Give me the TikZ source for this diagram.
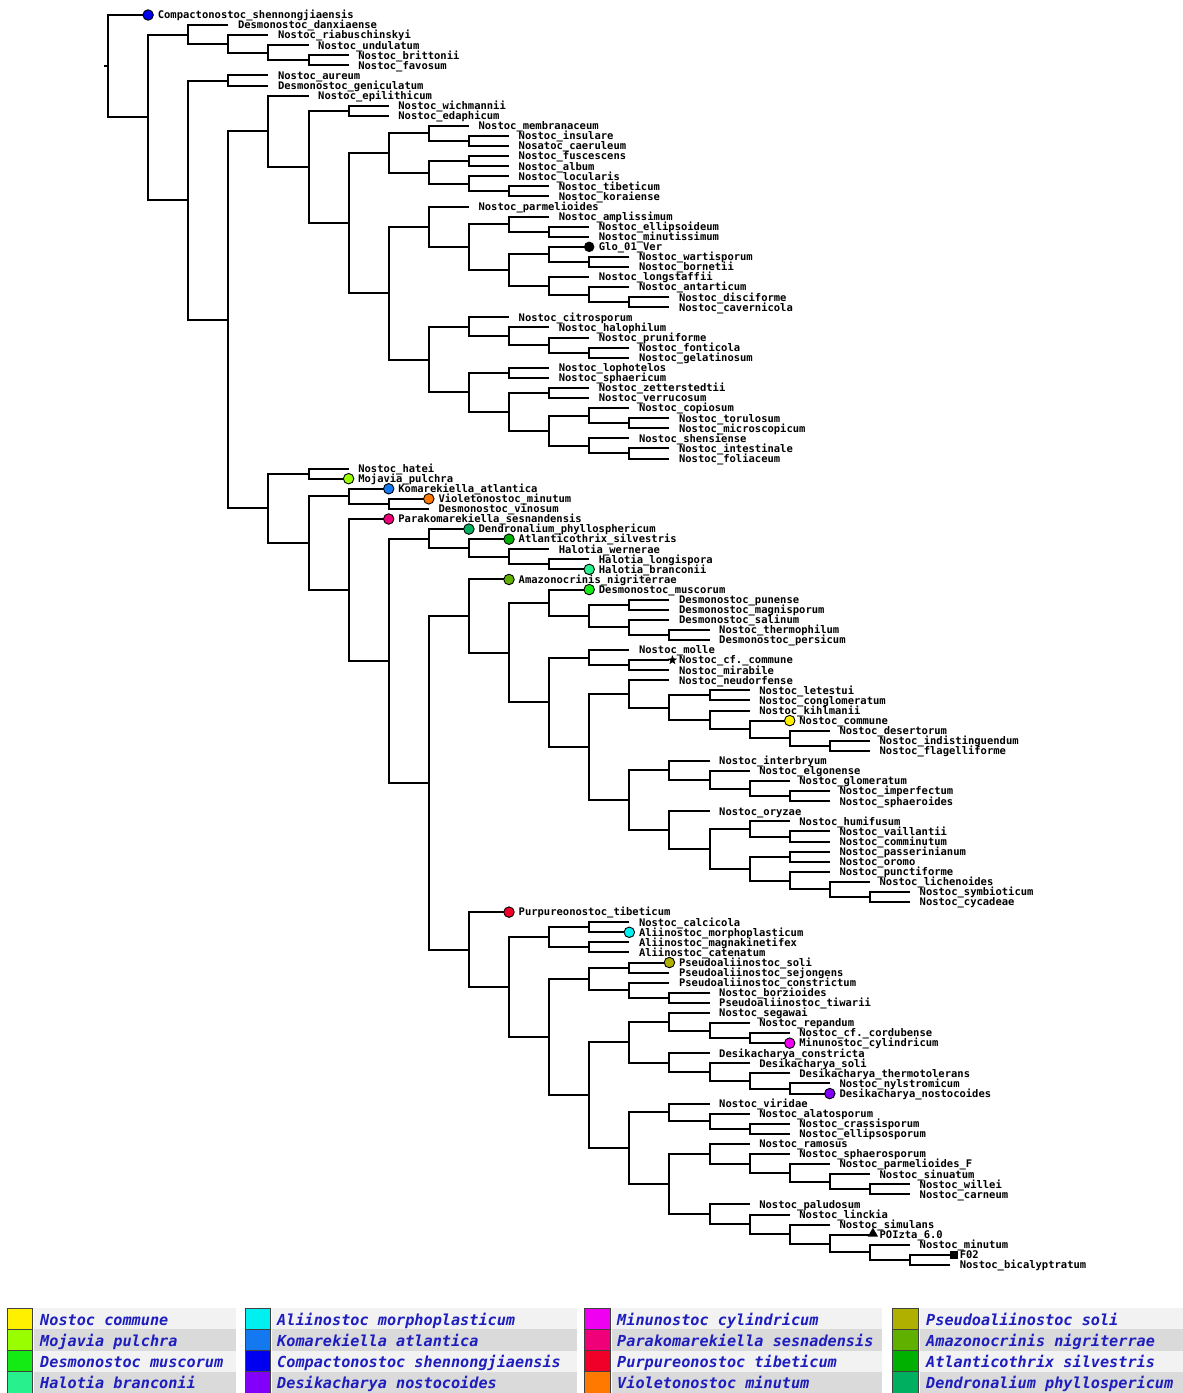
\documentclass[tikz,border=0pt]{standalone}
\usepackage{fontspec}
\usetikzlibrary{shapes.geometric}
\newfontfamily\labfont{DejaVu Sans Mono Bold}
\newfontfamily\legfont{DejaVu Sans Mono Bold Oblique}
\definecolor{cNc}{RGB}{255,240,0}
\definecolor{cMp}{RGB}{153,255,0}
\definecolor{cDm}{RGB}{20,235,20}
\definecolor{cHb}{RGB}{40,240,140}
\definecolor{cAm}{RGB}{0,240,240}
\definecolor{cKa}{RGB}{20,120,240}
\definecolor{cCs}{RGB}{0,0,240}
\definecolor{cDn}{RGB}{130,0,250}
\definecolor{cMc}{RGB}{240,0,240}
\definecolor{cPs}{RGB}{240,0,120}
\definecolor{cPt}{RGB}{240,0,40}
\definecolor{cVm}{RGB}{255,120,0}
\definecolor{cPso}{RGB}{176,176,0}
\definecolor{cAn}{RGB}{96,176,0}
\definecolor{cAs}{RGB}{0,176,0}
\definecolor{cDp}{RGB}{0,176,96}
\definecolor{legL}{RGB}{242,242,242}
\definecolor{legD}{RGB}{218,218,218}
\definecolor{legT}{RGB}{30,30,190}
\pgfdeclarelayer{fg}
\pgfsetlayers{main,fg}
\newcommand\Lf[5][]{%
  \edef\tmpy{\fpeval{15+(#4-1)*10.08}}%
  \expandafter\xdef\csname ty#2\endcsname{\tmpy}%
  \edef\tmpx{\fpeval{108+40.1*(#3)}}%
  \coordinate (#2) at (\tmpx,\tmpy);
  \node[lab] (#2t) at ([xshift=9.5pt,yshift=-3.8pt]#2) {#5};
  \if\relax\detokenize{#1}\relax\else
    \begin{pgfonlayer}{fg}\node[#1] (#2m) at (#2) {};\end{pgfonlayer}%
  \fi
}
\newcommand\Nd[4]{%
  \edef\tmpy{\fpeval{(\csname ty#3\endcsname+\csname ty#4\endcsname)/2}}%
  \expandafter\xdef\csname ty#1\endcsname{\tmpy}%
  \edef\tmpx{\fpeval{108+40.1*(#2)}}%
  \coordinate (#1) at (\tmpx,\tmpy);
  \draw[br] (#3) -| (#1) |- (#4);
}
\begin{document}
\begin{tikzpicture}[x=1pt,y=-1pt,
  br/.style={line width=2pt,black,line join=miter},
  lab/.style={font={\labfont\fontsize{10.5}{12}\selectfont},anchor=base west,inner sep=0pt,text=black},
  dotm/.style={circle,draw=black,line width=0.9pt,inner sep=0pt,minimum size=10.5pt,fill=#1},
  blk/.style={circle,fill=black,inner sep=0pt,minimum size=10.5pt},
  starm/.style={star,star points=5,star point ratio=2.4,fill=black,inner sep=0pt,minimum size=10pt,xshift=3pt},
  trim/.style={regular polygon,regular polygon sides=3,fill=black,inner sep=0pt,minimum size=12pt,xshift=3pt,yshift=1pt},
  sqm/.style={rectangle,fill=black,inner sep=0pt,minimum size=8pt,xshift=4pt},
  legtxt/.style={font={\legfont\fontsize{15.2}{17}\selectfont},text=legT,anchor=base west,inner sep=0pt},
  legbox/.style={draw=black!75,line width=0.6pt}]
\fill[white] (0,0) rectangle (1183,1393);
\path[use as bounding box] (0,0) rectangle (1183,1393);
% ---------------- upper part ----------------
\Lf[dotm=cCs]{k1}{1}{1}{Compactonostoc\_shennongjiaensis}
\Lf{k2}{3}{2}{Desmonostoc\_danxiaense}
\Lf{k3}{4}{3}{Nostoc\_riabuschinskyi}
\Lf{k4}{5}{4}{Nostoc\_undulatum}
\Lf{k5}{6}{5}{Nostoc\_brittonii}
\Lf{k6}{6}{6}{Nostoc\_favosum}
\Nd{B4}{5}{k5}{k6}
\Nd{B3}{4}{k4}{B4}
\Nd{B2}{3}{k3}{B3}
\Nd{B}{2}{k2}{B2}
\Lf{k7}{4}{7}{Nostoc\_aureum}
\Lf{k8}{4}{8}{Desmonostoc\_geniculatum}
\Nd{D}{3}{k7}{k8}
\Lf{k9}{5}{9}{Nostoc\_epilithicum}
\Lf{k10}{7}{10}{Nostoc\_wichmannii}
\Lf{k11}{7}{11}{Nostoc\_edaphicum}
\Nd{F3}{6}{k10}{k11}
\Lf{k12}{9}{12}{Nostoc\_membranaceum}
\Lf{k13}{10}{13}{Nostoc\_insulare}
\Lf{k14}{10}{14}{Nosatoc\_caeruleum}
\Nd{F7b}{9}{k13}{k14}
\Nd{F7}{8}{k12}{F7b}
\Lf{k15}{10}{15}{Nostoc\_fuscescens}
\Lf{k16}{10}{16}{Nostoc\_album}
\Nd{F8a}{9}{k15}{k16}
\Lf{k17}{10}{17}{Nostoc\_locularis}
\Lf{k18}{11}{18}{Nostoc\_tibeticum}
\Lf{k19}{11}{19}{Nostoc\_koraiense}
\Nd{F8c}{10}{k18}{k19}
\Nd{F8b}{9}{k17}{F8c}
\Nd{F8}{8}{F8a}{F8b}
\Nd{F5}{7}{F7}{F8}
\Lf{k20}{9}{20}{Nostoc\_parmelioides}
\Lf{k21}{11}{21}{Nostoc\_amplissimum}
\Lf{k22}{12}{22}{Nostoc\_ellipsoideum}
\Lf{k23}{12}{23}{Nostoc\_minutissimum}
\Nd{G1c2}{11}{k22}{k23}
\Nd{G1c}{10}{k21}{G1c2}
\Lf[blk]{k24}{12}{24}{Glo\_01\_Ver}
\Lf{k25}{13}{25}{Nostoc\_wartisporum}
\Lf{k26}{13}{26}{Nostoc\_bornetii}
\Nd{G1e2}{12}{k25}{k26}
\Nd{G1e}{11}{k24}{G1e2}
\Lf{k27}{12}{27}{Nostoc\_longstaffii}
\Lf{k28}{13}{28}{Nostoc\_antarticum}
\Lf{k29}{14}{29}{Nostoc\_disciforme}
\Lf{k30}{14}{30}{Nostoc\_cavernicola}
\Nd{G1h}{13}{k29}{k30}
\Nd{G1g}{12}{k28}{G1h}
\Nd{G1f}{11}{k27}{G1g}
\Nd{G1d}{10}{G1e}{G1f}
\Nd{G1b}{9}{G1c}{G1d}
\Nd{G1}{8}{k20}{G1b}
\Lf{k31}{10}{31}{Nostoc\_citrosporum}
\Lf{k32}{11}{32}{Nostoc\_halophilum}
\Lf{k33}{12}{33}{Nostoc\_pruniforme}
\Lf{k34}{13}{34}{Nostoc\_fonticola}
\Lf{k35}{13}{35}{Nostoc\_gelatinosum}
\Nd{G3d}{12}{k34}{k35}
\Nd{G3c}{11}{k33}{G3d}
\Nd{G3b}{10}{k32}{G3c}
\Nd{G3}{9}{k31}{G3b}
\Lf{k36}{11}{36}{Nostoc\_lophotelos}
\Lf{k37}{11}{37}{Nostoc\_sphaericum}
\Nd{G4a}{10}{k36}{k37}
\Lf{k38}{12}{38}{Nostoc\_zetterstedtii}
\Lf{k39}{12}{39}{Nostoc\_verrucosum}
\Nd{G4c}{11}{k38}{k39}
\Lf{k40}{13}{40}{Nostoc\_copiosum}
\Lf{k41}{14}{41}{Nostoc\_torulosum}
\Lf{k42}{14}{42}{Nostoc\_microscopicum}
\Nd{G4e2}{13}{k41}{k42}
\Nd{G4e}{12}{k40}{G4e2}
\Lf{k43}{13}{43}{Nostoc\_shensiense}
\Lf{k44}{14}{44}{Nostoc\_intestinale}
\Lf{k45}{14}{45}{Nostoc\_foliaceum}
\Nd{G4f2}{13}{k44}{k45}
\Nd{G4f}{12}{k43}{G4f2}
\Nd{G4d}{11}{G4e}{G4f}
\Nd{G4b}{10}{G4c}{G4d}
\Nd{G4}{9}{G4a}{G4b}
\Nd{G2}{8}{G3}{G4}
\Nd{F6}{7}{G1}{G2}
\Nd{F4}{6}{F5}{F6}
\Nd{F2}{5}{F3}{F4}
\Nd{F}{4}{k9}{F2}
% ---------------- lower part ----------------
\Lf{k46}{6}{46}{Nostoc\_hatei}
\Lf[dotm=cMp]{k47}{6}{47}{Mojavia\_pulchra}
\Nd{H1}{5}{k46}{k47}
\Lf[dotm=cKa]{k48}{7}{48}{Komarekiella\_atlantica}
\Lf[dotm=cVm]{k49}{8}{49}{Violetonostoc\_minutum}
\Lf{k50}{8}{50}{Desmonostoc\_vinosum}
\Nd{H3b}{7}{k49}{k50}
\Nd{H3}{6}{k48}{H3b}
\Lf[dotm=cPs]{k51}{7}{51}{Parakomarekiella\_sesnandensis}
\Lf[dotm=cDp]{k52}{9}{52}{Dendronalium\_phyllosphericum}
\Lf[dotm=cAs]{k53}{10}{53}{Atlanticothrix\_silvestris}
\Lf{k54}{11}{54}{Halotia\_wernerae}
\Lf{k55}{12}{55}{Halotia\_longispora}
\Lf[dotm=cHb]{k56}{12}{56}{Halotia\_branconii}
\Nd{I1d}{11}{k55}{k56}
\Nd{I1c}{10}{k54}{I1d}
\Nd{I1b}{9}{k53}{I1c}
\Nd{I1}{8}{k52}{I1b}
\Lf[dotm=cAn]{k57}{10}{57}{Amazonocrinis\_nigriterrae}
\Lf[dotm=cDm]{k58}{12}{58}{Desmonostoc\_muscorum}
\Lf{k59}{14}{59}{Desmonostoc\_punense}
\Lf{k60}{14}{60}{Desmonostoc\_magnisporum}
\Nd{K1c}{13}{k59}{k60}
\Lf{k61}{14}{61}{Desmonostoc\_salinum}
\Lf{k62}{15}{62}{Nostoc\_thermophilum}
\Lf{k63}{15}{63}{Desmonostoc\_persicum}
\Nd{K1e}{14}{k62}{k63}
\Nd{K1d}{13}{k61}{K1e}
\Nd{K1b}{12}{K1c}{K1d}
\Nd{K1}{11}{k58}{K1b}
\Lf{k64}{13}{64}{Nostoc\_molle}
\Lf[starm]{k65}{14}{65}{Nostoc\_cf.\_commune}
\Lf{k66}{14}{66}{Nostoc\_mirabile}
\Nd{L1b}{13}{k65}{k66}
\Nd{L1}{12}{k64}{L1b}
\Lf{k67}{14}{67}{Nostoc\_neudorfense}
\Lf{k68}{16}{68}{Nostoc\_letestui}
\Lf{k69}{16}{69}{Nostoc\_conglomeratum}
\Nd{M1c}{15}{k68}{k69}
\Lf{k70}{16}{70}{Nostoc\_kihlmanii}
\Lf[dotm=cNc]{k71}{17}{71}{Nostoc\_commune}
\Lf{k72}{18}{72}{Nostoc\_desertorum}
\Lf{k73}{19}{73}{Nostoc\_indistinguendum}
\Lf{k74}{19}{74}{Nostoc\_flagelliforme}
\Nd{M1g}{18}{k73}{k74}
\Nd{M1f}{17}{k72}{M1g}
\Nd{M1e}{16}{k71}{M1f}
\Nd{M1d}{15}{k70}{M1e}
\Nd{M1b}{14}{M1c}{M1d}
\Nd{M1}{13}{k67}{M1b}
\Lf{k75}{15}{75}{Nostoc\_interbryum}
\Lf{k76}{16}{76}{Nostoc\_elgonense}
\Lf{k77}{17}{77}{Nostoc\_glomeratum}
\Lf{k78}{18}{78}{Nostoc\_imperfectum}
\Lf{k79}{18}{79}{Nostoc\_sphaeroides}
\Nd{N1d}{17}{k78}{k79}
\Nd{N1c}{16}{k77}{N1d}
\Nd{N1b}{15}{k76}{N1c}
\Nd{N1}{14}{k75}{N1b}
\Lf{k80}{15}{80}{Nostoc\_oryzae}
\Lf{k81}{17}{81}{Nostoc\_humifusum}
\Lf{k82}{18}{82}{Nostoc\_vaillantii}
\Lf{k83}{18}{83}{Nostoc\_comminutum}
\Nd{N3b}{17}{k82}{k83}
\Nd{N3}{16}{k81}{N3b}
\Lf{k84}{18}{84}{Nostoc\_passerinianum}
\Lf{k85}{18}{85}{Nostoc\_oromo}
\Nd{N4a}{17}{k84}{k85}
\Lf{k86}{18}{86}{Nostoc\_punctiforme}
\Lf{k87}{19}{87}{Nostoc\_lichenoides}
\Lf{k88}{20}{88}{Nostoc\_symbioticum}
\Lf{k89}{20}{89}{Nostoc\_cycadeae}
\Nd{N4d}{19}{k88}{k89}
\Nd{N4c}{18}{k87}{N4d}
\Nd{N4b}{17}{k86}{N4c}
\Nd{N4}{16}{N4a}{N4b}
\Nd{N2b}{15}{N3}{N4}
\Nd{N2}{14}{k80}{N2b}
\Nd{M2}{13}{N1}{N2}
\Nd{L2}{12}{M1}{M2}
\Nd{K2}{11}{L1}{L2}
\Nd{J1b}{10}{K1}{K2}
\Nd{J1}{9}{k57}{J1b}
\Lf[dotm=cPt]{k90}{10}{90}{Purpureonostoc\_tibeticum}
\Lf{k91}{13}{91}{Nostoc\_calcicola}
\Lf[dotm=cAm]{k92}{13}{92}{Aliinostoc\_morphoplasticum}
\Nd{O1a}{12}{k91}{k92}
\Lf{k93}{13}{93}{Aliinostoc\_magnakinetifex}
\Lf{k94}{13}{94}{Aliinostoc\_catenatum}
\Nd{O1b}{12}{k93}{k94}
\Nd{O1}{11}{O1a}{O1b}
\Lf[dotm=cPso]{k95}{14}{95}{Pseudoaliinostoc\_soli}
\Lf{k96}{14}{96}{Pseudoaliinostoc\_sejongens}
\Nd{P1a}{13}{k95}{k96}
\Lf{k97}{14}{97}{Pseudoaliinostoc\_constrictum}
\Lf{k98}{15}{98}{Nostoc\_borzioides}
\Lf{k99}{15}{99}{Pseudoaliinostoc\_tiwarii}
\Nd{P1c}{14}{k98}{k99}
\Nd{P1b}{13}{k97}{P1c}
\Nd{P1}{12}{P1a}{P1b}
\Lf{k100}{15}{100}{Nostoc\_segawai}
\Lf{k101}{16}{101}{Nostoc\_repandum}
\Lf{k102}{17}{102}{Nostoc\_cf.\_cordubense}
\Lf[dotm=cMc]{k103}{17}{103}{Minunostoc\_cylindricum}
\Nd{Q1d}{16}{k102}{k103}
\Nd{Q1c}{15}{k101}{Q1d}
\Nd{Q1a}{14}{k100}{Q1c}
\Lf{k104}{15}{104}{Desikacharya\_constricta}
\Lf{k105}{16}{105}{Desikacharya\_soli}
\Lf{k106}{17}{106}{Desikacharya\_thermotolerans}
\Lf{k107}{18}{107}{Nostoc\_nylstromicum}
\Lf[dotm=cDn]{k108}{18}{108}{Desikacharya\_nostocoides}
\Nd{Q1g}{17}{k107}{k108}
\Nd{Q1f}{16}{k106}{Q1g}
\Nd{Q1e}{15}{k105}{Q1f}
\Nd{Q1b}{14}{k104}{Q1e}
\Nd{Q1}{13}{Q1a}{Q1b}
\Lf{k109}{15}{109}{Nostoc\_viridae}
\Lf{k110}{16}{110}{Nostoc\_alatosporum}
\Lf{k111}{17}{111}{Nostoc\_crassisporum}
\Lf{k112}{17}{112}{Nostoc\_ellipsosporum}
\Nd{R1c}{16}{k111}{k112}
\Nd{R1b}{15}{k110}{R1c}
\Nd{R1}{14}{k109}{R1b}
\Lf{k113}{16}{113}{Nostoc\_ramosus}
\Lf{k114}{17}{114}{Nostoc\_sphaerosporum}
\Lf{k115}{18}{115}{Nostoc\_parmelioides\_F}
\Lf{k116}{19}{116}{Nostoc\_sinuatum}
\Lf{k117}{20}{117}{Nostoc\_willei}
\Lf{k118}{20}{118}{Nostoc\_carneum}
\Nd{R3e}{19}{k117}{k118}
\Nd{R3d}{18}{k116}{R3e}
\Nd{R3c}{17}{k115}{R3d}
\Nd{R3b}{16}{k114}{R3c}
\Nd{R3}{15}{k113}{R3b}
\Lf{k119}{16}{119}{Nostoc\_paludosum}
\Lf{k120}{17}{120}{Nostoc\_linckia}
\Lf{k121}{18}{121}{Nostoc\_simulans}
\Lf[trim]{k122}{19}{122}{POIzta\_6.0}
\Lf{k123}{20}{123}{Nostoc\_minutum}
\Lf[sqm]{k124}{21}{124}{F02}
\Lf{k125}{21}{125}{Nostoc\_bicalyptratum}
\Nd{R4f}{20}{k124}{k125}
\Nd{R4e}{19}{k123}{R4f}
\Nd{R4d}{18}{k122}{R4e}
\Nd{R4c}{17}{k121}{R4d}
\Nd{R4b}{16}{k120}{R4c}
\Nd{R4}{15}{k119}{R4b}
\Nd{R2}{14}{R3}{R4}
\Nd{Q2}{13}{R1}{R2}
\Nd{P2}{12}{Q1}{Q2}
\Nd{O2}{11}{P1}{P2}
\Nd{J2b}{10}{O1}{O2}
\Nd{J2}{9}{k90}{J2b}
\Nd{I2}{8}{J1}{J2}
\Nd{H5}{7}{I1}{I2}
\Nd{H4}{6}{k51}{H5}
\Nd{H2}{5}{H3}{H4}
\Nd{G}{4}{H1}{H2}
\Nd{E}{3}{F}{G}
\Nd{C}{2}{D}{E}
\Nd{A}{1}{B}{C}
\Nd{R0}{0}{k1}{A}
\coordinate (stub) at ([xshift=-4pt]R0);
\draw[br] (stub) -- (R0);
% ---------------- legend ----------------
\foreach \r/\bg in {0/legL,1/legD,2/legL,3/legD}{
  \fill[\bg] (34,{1308+21.25*\r}) rectangle (236,{1329.25+21.25*\r});
  \fill[\bg] (272,{1308+21.25*\r}) rectangle (577,{1329.25+21.25*\r});
  \fill[\bg] (612,{1308+21.25*\r}) rectangle (882,{1329.25+21.25*\r});
  \fill[\bg] (920,{1308+21.25*\r}) rectangle (1183,{1329.25+21.25*\r});
}
\foreach \r/\ca/\cb/\cc/\cd in {0/cNc/cAm/cMc/cPso,1/cMp/cKa/cPs/cAn,2/cDm/cCs/cPt/cAs,3/cHb/cDn/cVm/cDp}{
  \filldraw[legbox,fill=\ca] (7,{1308+21.25*\r}) rectangle (32,{1329.25+21.25*\r});
  \filldraw[legbox,fill=\cb] (245,{1308+21.25*\r}) rectangle (270,{1329.25+21.25*\r});
  \filldraw[legbox,fill=\cc] (584,{1308+21.25*\r}) rectangle (610,{1329.25+21.25*\r});
  \filldraw[legbox,fill=\cd] (892,{1308+21.25*\r}) rectangle (918,{1329.25+21.25*\r});
}
\node[legtxt] (g1) at (40,1325.1) {Nostoc commune};
\node[legtxt] (g2) at (40,1346.4) {Mojavia pulchra};
\node[legtxt] (g3) at (40,1367.6) {Desmonostoc muscorum};
\node[legtxt] (g4) at (40,1388.9) {Halotia branconii};
\node[legtxt] (g5) at (277,1325.1) {Aliinostoc morphoplasticum};
\node[legtxt] (g6) at (277,1346.4) {Komarekiella atlantica};
\node[legtxt] (g7) at (277,1367.6) {Compactonostoc shennongjiaensis};
\node[legtxt] (g8) at (277,1388.9) {Desikacharya nostocoides};
\node[legtxt] (g9) at (617,1325.1) {Minunostoc cylindricum};
\node[legtxt] (g10) at (617,1346.4) {Parakomarekiella sesnadensis};
\node[legtxt] (g11) at (617,1367.6) {Purpureonostoc tibeticum};
\node[legtxt] (g12) at (617,1388.9) {Violetonostoc minutum};
\node[legtxt] (g13) at (926,1325.1) {Pseudoaliinostoc soli};
\node[legtxt] (g14) at (926,1346.4) {Amazonocrinis nigriterrae};
\node[legtxt] (g15) at (926,1367.6) {Atlanticothrix silvestris};
\node[legtxt] (g16) at (926,1388.9) {Dendronalium phyllospericum};
\end{tikzpicture}
\end{document}
